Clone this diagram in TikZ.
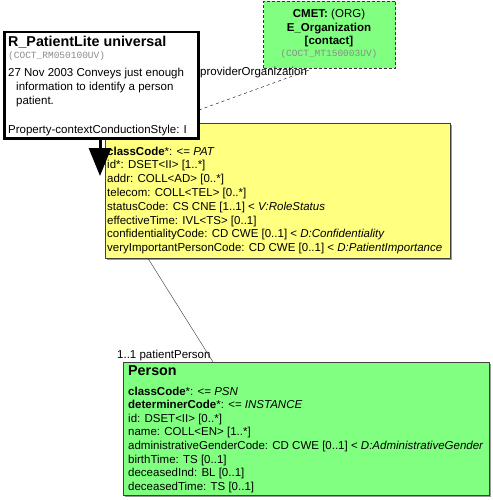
\documentclass[tikz,border=0pt]{standalone}
\usepackage{fontspec}
\setmainfont{Liberation Sans}
\setmonofont{Liberation Mono}
\usetikzlibrary{arrows.meta,calc,shadows}
\definecolor{clsyellow}{RGB}{255,255,128}
\definecolor{clsgreen}{RGB}{128,255,128}
\begin{document}
\begin{tikzpicture}[x=1pt,y=-1pt,
    clsbox/.style={draw=black!75, anchor=north west, inner sep=0pt,
      drop shadow={shadow xshift=1.5pt, shadow yshift=-1.5pt, opacity=1, fill=black!40}},
    attr/.style={anchor=base west, inner sep=0pt, font=\fontsize{11.5}{13.8}\selectfont},
    ttl/.style={anchor=base west, inner sep=0pt, font=\bfseries\fontsize{14.3}{17}\selectfont},
    artid/.style={anchor=base west, inner sep=0pt, text=black!45, font=\ttfamily\fontsize{9.5}{10}\selectfont}]
    \useasboundingbox (0,0) rectangle (492,500);
    % patient role class
    \node[clsbox, fill=clsyellow, minimum width=345, minimum height=135] (patient) at (105,123) {};
    \foreach \txt [count=\i from 0] in {{\textbf{classCode}*: <= \textit{PAT}},
        {id*: DSET<II> [1..*]}, {addr: COLL<AD> [0..*]}, {telecom: COLL<TEL> [0..*]},
        {statusCode: CS CNE [1..1] < \textit{V:RoleStatus}}, {effectiveTime: IVL<TS> [0..1]},
        {confidentialityCode: CD CWE [0..1] < \textit{D:Confidentiality}},
        {veryImportantPersonCode: CD CWE [0..1] < \textit{D:PatientImportance}}}
        \node[attr] (pat\i) at (107,{155+13.8*\i}) {\txt};
    % entry point
    \node[draw, line width=2.5, fill=white, anchor=north west, minimum width=194, minimum height=106] (rbox) at (3,31) {};
    \node[ttl] (rtitle) at (8,47) {R\_PatientLite universal};
    \node[artid] (rid) at (8,59) {(COCT\_RM050100UV)};
    \node[attr] (rdesc1) at (8,77) {27 Nov 2003 Conveys just enough};
    \node[attr] (rdesc2) at (16,91) {information to identify a person};
    \node[attr] (rdesc3) at (16,105) {patient.};
    \node[attr] (rstyle) at (8,133) {Property-contextConductionStyle: I};
    \coordinate (tip) at (100,176);
    \draw[line width=3, -{Triangle[length=28pt, width=22pt]}] (tip |- rbox.south) -- (tip);
    % cmet
    \node[draw=black!80, dash pattern=on 3pt off 2pt, line width=1, fill=clsgreen, anchor=north west,
      minimum width=132, minimum height=67] (cmet) at (263,1) {};
    \node[anchor=base, inner sep=0pt, font=\fontsize{11.5}{13.8}\selectfont] (cmet1) at (329,18) {\textbf{CMET:} (ORG)};
    \node[anchor=base, inner sep=0pt, font=\bfseries\fontsize{11.5}{13.8}\selectfont] (cmet2) at (329,32) {E\_Organization};
    \node[anchor=base, inner sep=0pt, font=\bfseries\fontsize{11.5}{13.8}\selectfont] (cmet3) at (329,45) {[contact]};
    \node[artid, anchor=base] (cmet4) at (329,57) {(COCT\_MT150003UV)};
    \coordinate (provA) at (199,110);
    \draw[dashed] (provA) -- ($(cmet.south west)+(49,0)$);
    \node[attr] (provlbl) at (200,76) {providerOrganization};
    % player
    \node[clsbox, fill=clsgreen, minimum width=366, minimum height=133] (person) at (123,362) {};
    \node[ttl] (ptitle) at (128,375) {Person};
    \foreach \txt [count=\i from 0] in {{\textbf{classCode}*: <= \textit{PSN}},
        {\textbf{determinerCode}*: <= \textit{INSTANCE}}, {id: DSET<II> [0..*]},
        {name: COLL<EN> [1..*]},
        {administrativeGenderCode: CD CWE [0..1] < \textit{D:AdministrativeGender}},
        {birthTime: TS [0..1]}, {deceasedInd: BL [0..1]}, {deceasedTime: TS [0..1]}}
        \node[attr] (psn\i) at (128,{395+13.6*\i}) {\txt};
    \draw[black!80] ($(patient.south west)+(43,0)$) -- ($(person.north west)+(90,0)$);
    \node[attr] (plbl) at (117,358) {1..1 patientPerson};
\end{tikzpicture}
\end{document}
